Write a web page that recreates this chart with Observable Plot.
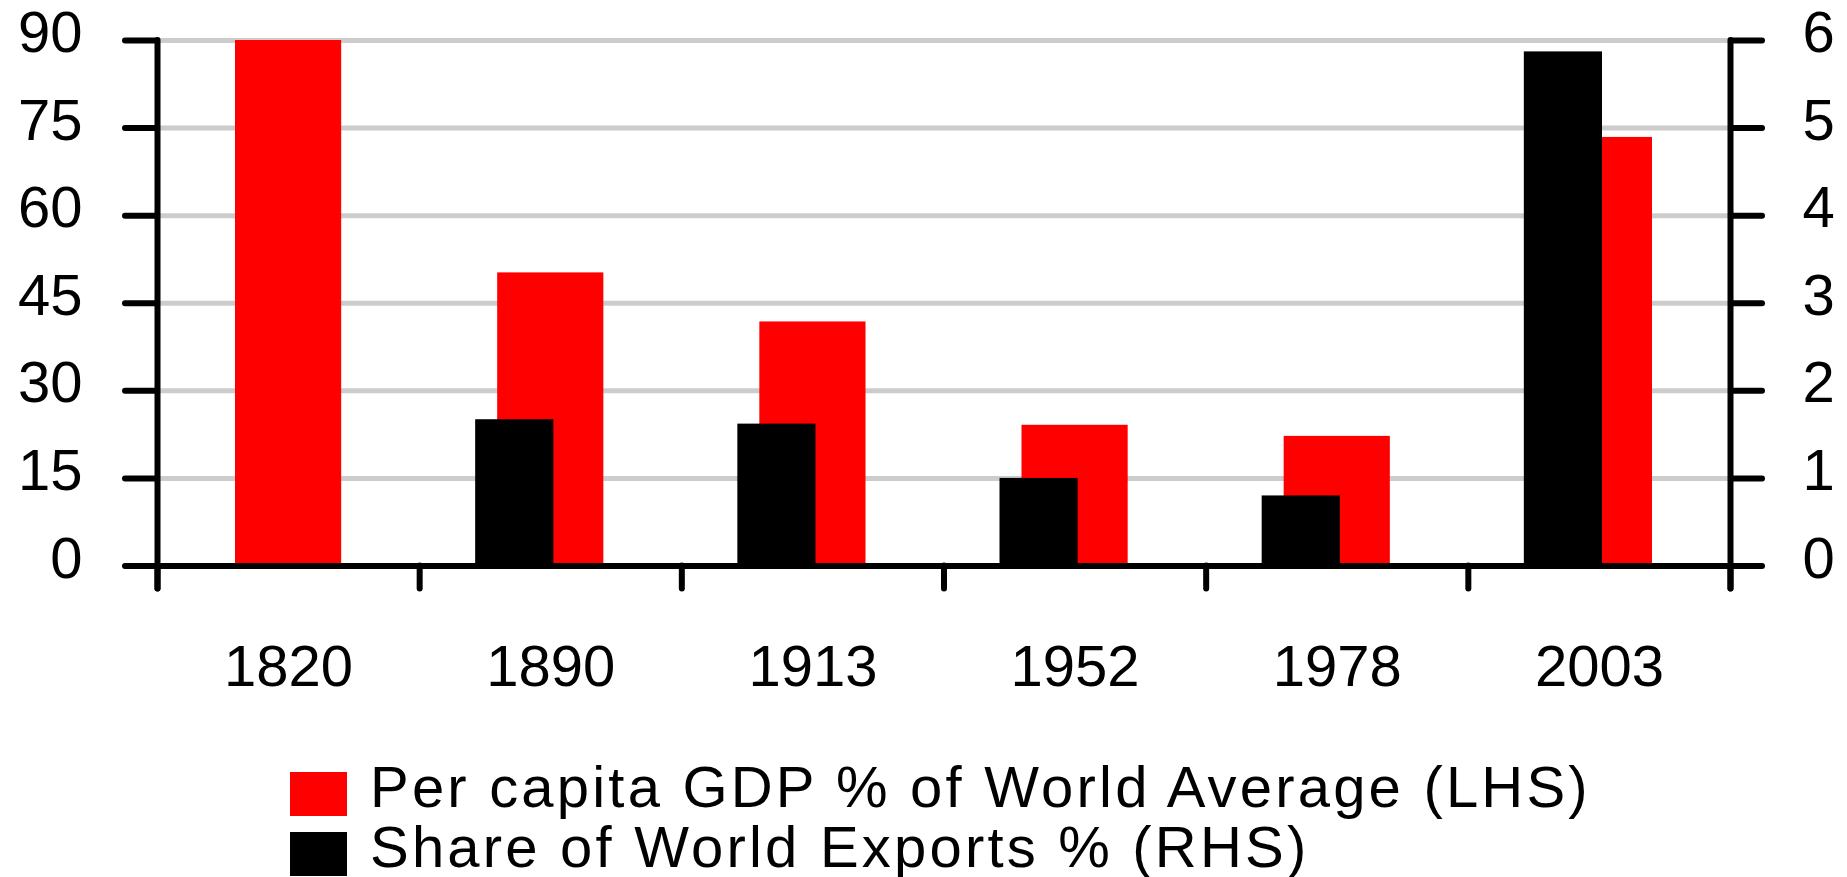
<!DOCTYPE html>
<html>
<head>
<meta charset="utf-8">
<script src="https://cdn.jsdelivr.net/npm/d3@7"></script>
<script src="https://cdn.jsdelivr.net/npm/@observablehq/plot@0.6"></script>
<style>
  html, body { margin: 0; padding: 0; background: #fff; }
  body { width: 1847px; height: 877px; overflow: hidden; font-family: "Liberation Sans", Arial, sans-serif; }
  #legend { padding-left: 290px; padding-top: 17px; }
  .row { display: flex; align-items: flex-start; height: 60px; }
  .sw { width: 57px; height: 44px; margin-top: 15px; flex: none; }
  .lab { margin-left: 23px; font-size: 58px; line-height: 60px; letter-spacing: 3.2px; white-space: nowrap; color: #000; }
</style>
</head>
<body>
<div id="chart"></div>
<div id="legend"></div>
<script>
// Data
const years = ["1820", "1890", "1913", "1952", "1978", "2003"];
const gdpShare = [90, 50.2, 41.8, 24.1, 22.2, 73.4];          // Per capita GDP % of world average (LHS)
const exportShare = [null, 1.67, 1.62, 1.0, 0.8, 5.87];        // Share of world exports % (RHS)
const leftTicks = [0, 15, 30, 45, 60, 75, 90];
const rightTicks = [0, 1, 2, 3, 4, 5, 6];
const seriesNames = ["Per capita GDP % of World Average (LHS)", "Share of World Exports % (RHS)"];
const seriesColors = ["#ff0000", "#000000"];

const ratio = 90 / 6;
const table = years.map((y, i) => ({i, year: y, gdp: gdpShare[i], exp: exportShare[i]}));
const sw = 6;

const chart = Plot.plot({
  width: 1847,
  height: 740,
  marginLeft: 157,
  marginRight: 117,
  marginTop: 40,
  marginBottom: 174.5,
  style: {fontFamily: "'Liberation Sans', Arial, sans-serif", fontSize: "58px", color: "#000", background: "#fff"},
  x: {type: "linear", domain: [0, years.length]},
  y: {domain: [0, 90]},
  marks: [
    Plot.ruleY(leftTicks, {stroke: "#cccccc", strokeWidth: 5}),
    Plot.rect(table, {x1: "i", x2: d => d.i + 1, y1: 0, y2: "gdp", fill: seriesColors[0], insetLeft: 78, insetRight: 78}),
    Plot.rect(table.filter(d => d.exp != null), {x1: "i", x2: d => d.i + 1, y1: 0, y2: d => d.exp * ratio, fill: seriesColors[1], insetLeft: 56, insetRight: 128}),
    // left axis: ticks, then labels
    Plot.axisY({anchor: "left", ticks: leftTicks, tickSize: 32, tickFormat: () => "", strokeWidth: sw, strokeLinecap: "round", label: null}),
    Plot.axisY({anchor: "left", ticks: leftTicks, tickSize: 0, tickPadding: 75, fontSize: 58, dy: -7, label: null}),
    // right axis: ticks, then labels (RHS units)
    Plot.axisY({anchor: "right", ticks: rightTicks.map(v => v * ratio), tickSize: 31, tickFormat: () => "", strokeWidth: sw, strokeLinecap: "round", label: null}),
    Plot.axisY({anchor: "right", ticks: rightTicks.map(v => v * ratio), tickFormat: d => String(Math.round(d / ratio)), tickSize: 0, tickPadding: 72, fontSize: 58, dy: -7, label: null}),
    // x axis: boundary ticks and category labels
    Plot.axisX({ticks: d3.range(years.length + 1), tickFormat: () => "", tickSize: 23, strokeWidth: sw, strokeLinecap: "round", label: null}),
    Plot.axisX({ticks: years.map((y, i) => i + 0.5), tickFormat: d => years[Math.floor(d)], tickSize: 0, tickPadding: 78.5, fontSize: 58, label: null}),
    Plot.ruleX([0, years.length], {strokeWidth: sw, insetBottom: -23, strokeLinecap: "round"}),
    Plot.ruleY([0], {strokeWidth: sw})
  ]
});
document.getElementById("chart").appendChild(chart);

const legend = document.getElementById("legend");
seriesNames.forEach((name, k) => {
  const row = document.createElement("div");
  row.className = "row";
  const s = document.createElement("span");
  s.className = "sw";
  s.style.background = seriesColors[k];
  const lab = document.createElement("span");
  lab.className = "lab";
  lab.textContent = name;
  row.appendChild(s);
  row.appendChild(lab);
  legend.appendChild(row);
});
</script>
</body>
</html>
